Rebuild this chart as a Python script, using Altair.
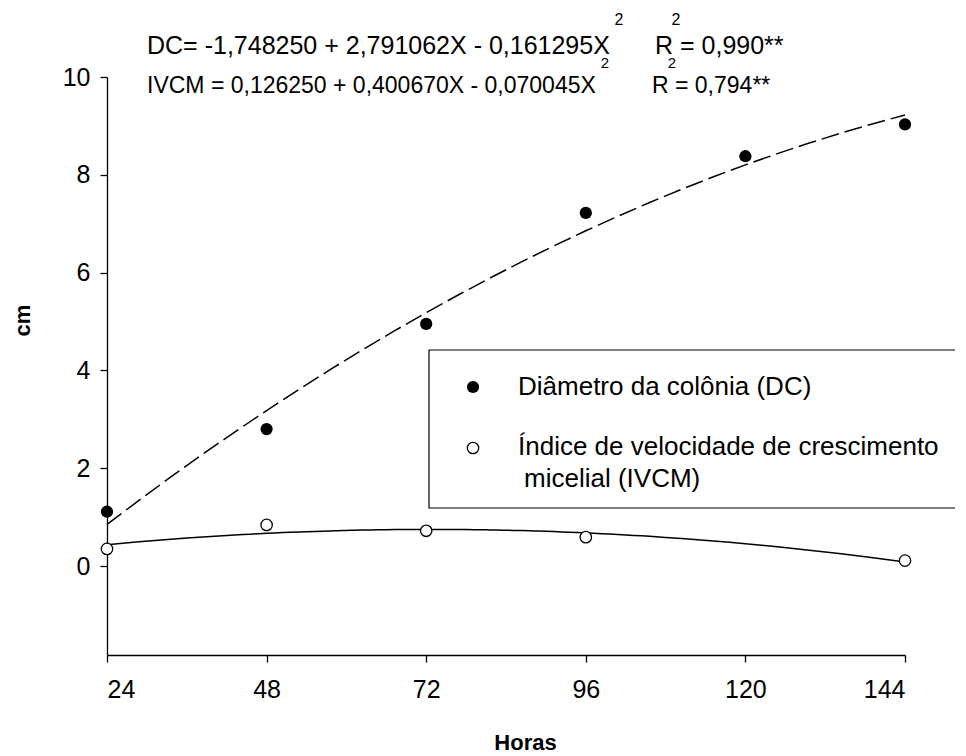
import altair as alt
import pandas as pd

# ---- data ----
horas = [24, 48, 72, 96, 120, 144]
dc_vals = [1.11, 2.80, 4.95, 7.22, 8.38, 9.03]
ivcm_horas = [24, 48, 72, 96, 144]
ivcm_vals = [0.35, 0.84, 0.72, 0.59, 0.11]

x_ticks = [24, 48, 72, 96, 120, 144]
y_ticks = [0, 2, 4, 6, 8, 10]

eq_dc = "DC= -1,748250 + 2,791062X - 0,161295X"
eq_dc_r = "R = 0,990**"
eq_iv = "IVCM = 0,126250 + 0,400670X - 0,070045X"
eq_iv_r = "R = 0,794**"
leg_dc = "Diâmetro da colônia (DC)"
leg_iv_1 = "Índice de velocidade de crescimento"
leg_iv_2 = "micelial (IVCM)"

dc_df = pd.DataFrame({"h": horas, "v": dc_vals})
iv_df = pd.DataFrame({"h": ivcm_horas, "v": ivcm_vals})

W, H = 798, 578
FONT = "Liberation Sans"

xs = alt.Scale(domain=[24, 144], nice=False, zero=False)
ys = alt.Scale(domain=[-1.82, 10], nice=False, zero=False)

x_enc = alt.X("h:Q", scale=xs, title="Horas",
              axis=alt.Axis(values=x_ticks, grid=False, tickSize=7, labelPadding=15,
                            labelFontSize=25, titleFontSize=22, titleFontWeight="bold",
                            titleX=418, titleY=87, titleBaseline="middle",
                            domainColor="black", tickColor="black", labelColor="black",
                            titleColor="black", labelFont=FONT, titleFont=FONT))
y_enc = alt.Y("v:Q", scale=ys, title="cm",
              axis=alt.Axis(values=y_ticks, grid=False, tickSize=7, labelPadding=10,
                            labelFontSize=25, titleFontSize=22, titleFontWeight="bold",
                            titleX=-85, titleY=243, titleAngle=270, titleBaseline="middle",
                            domainColor="black", tickColor="black", labelColor="black",
                            titleColor="black", labelFont=FONT, titleFont=FONT))

dc_line = alt.Chart(dc_df).transform_regression(
    "h", "v", method="poly", order=2, extent=[24, 144]
).mark_line(color="black", strokeWidth=1.5, strokeDash=[18, 6]).encode(x=x_enc, y=y_enc)

iv_line = alt.Chart(iv_df).transform_regression(
    "h", "v", method="poly", order=2, extent=[24, 144]
).mark_line(color="black", strokeWidth=1.5).encode(x=x_enc, y=y_enc)

dc_pts = alt.Chart(dc_df).mark_point(filled=True, color="black", size=150, opacity=1).encode(x=x_enc, y=y_enc)
iv_pts = alt.Chart(iv_df).mark_point(shape="circle", fill="white", stroke="black",
                                     strokeWidth=1.3, size=130, opacity=1).encode(x=x_enc, y=y_enc)

# ---- legend box ----
one = pd.DataFrame({"a": [0]})
box = alt.Chart(one).mark_rect(
    fill="white", stroke="black", strokeWidth=1.2).encode(
    x=alt.value(322), x2=alt.value(856), y=alt.value(273), y2=alt.value(431))
leg_dot = alt.Chart(one).mark_point(
    filled=True, color="black", size=150, opacity=1).encode(x=alt.value(366), y=alt.value(310))
leg_circ = alt.Chart(one).mark_point(
    shape="circle", fill="white", stroke="black", strokeWidth=1.3, size=130, opacity=1).encode(
    x=alt.value(366), y=alt.value(371))

def txt(s, x, y, size, align="left"):
    return alt.Chart(pd.DataFrame({"t": [s]})).mark_text(
        align=align, baseline="middle", fontSize=size, font=FONT, color="black").encode(
        text="t:N", x=alt.value(x), y=alt.value(y))

texts = [
    txt(leg_dc, 411, 310, 26),
    txt(leg_iv_1, 411, 370, 26),
    txt(leg_iv_2, 417, 402, 26),
    txt(eq_dc, 40, -31, 25),
    txt("2", 512, -57, 16, "center"),
    txt(eq_dc_r, 548, -31, 25),
    txt("2", 569, -57, 16, "center"),
    txt(eq_iv, 40, 9, 23),
    txt("2", 498, -14, 15, "center"),
    txt(eq_iv_r, 545, 9, 23),
    txt("2", 565, -14, 15, "center"),
]

chart = alt.layer(dc_line, iv_line, dc_pts, iv_pts, box, leg_dot, leg_circ, *texts).properties(
    width=W, height=H,
    autosize=alt.AutoSizeParams(type="none"),
    padding={"left": 99, "top": 69, "right": 50, "bottom": 98},
).configure_view(stroke=None).configure_axis(domainWidth=1.3, tickWidth=1.3)

chart.save("out.html", embed_options={"renderer": "svg", "actions": False})
